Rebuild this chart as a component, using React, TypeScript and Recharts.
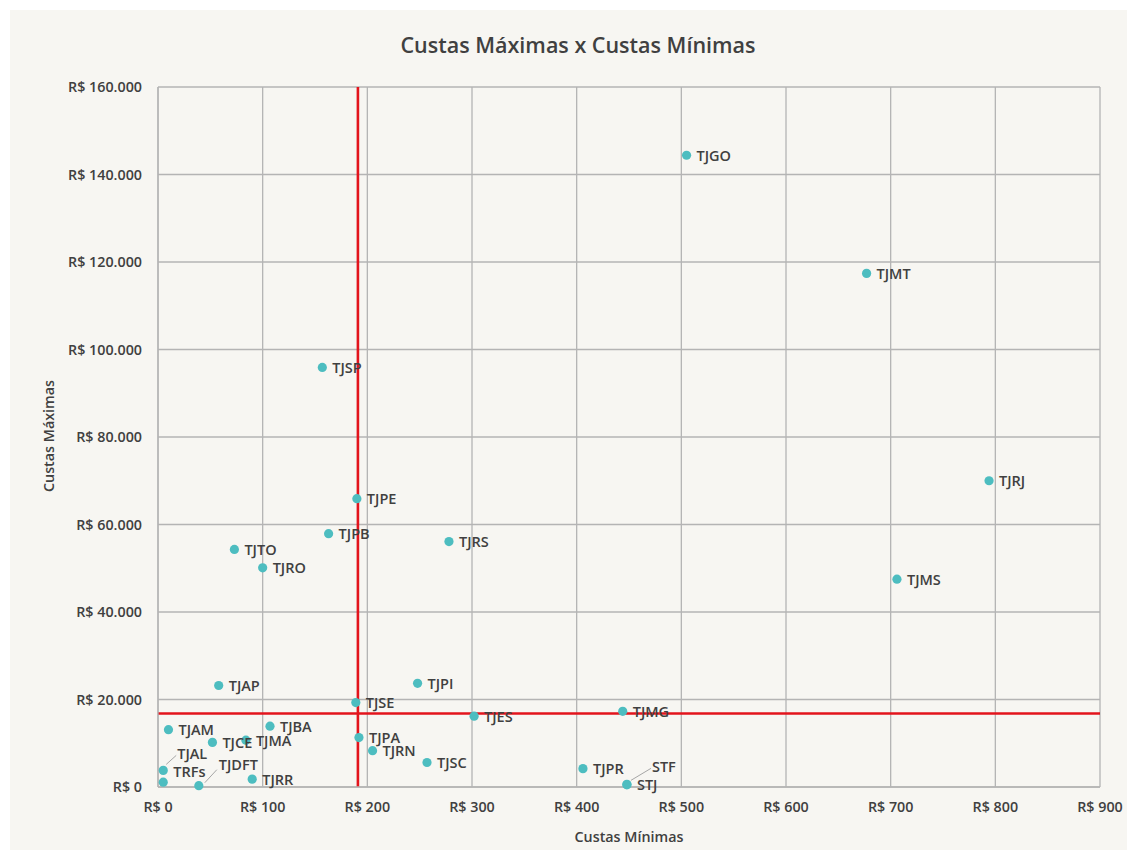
import React from "react";
import {
  ScatterChart,
  Scatter,
  XAxis,
  YAxis,
  CartesianGrid,
  ReferenceLine,
} from "recharts";

// Tribunais
const courts = [
  "TJGO", "TJMT", "TJSP", "TJRJ", "TJPE", "TJPB", "TJRS", "TJTO", "TJRO", "TJMS",
  "TJPI", "TJAP", "TJSE", "TJMG", "TJES", "TJBA", "TJAM", "TJPA", "TJMA", "TJCE",
  "TJRN", "TJSC", "TJPR", "TJAL", "TJRR", "TRFs", "STF", "STJ", "TJDFT",
];

// Custas mínimas (R$)
const minCosts = [
  505, 677, 157, 794, 190, 163, 278, 73, 100, 706,
  248, 58, 189, 444, 302, 107, 10, 192, 84, 52,
  205, 257, 406, 5, 90, 5, 448, 448, 39,
];

// Custas máximas (R$)
const maxCosts = [
  144400, 117400, 95900, 70000, 65900, 57900, 56100, 54300, 50100, 47500,
  23700, 23200, 19300, 17300, 16200, 13900, 13100, 11300, 10700, 10200,
  8300, 5600, 4200, 3800, 1800, 1100, 600, 500, 300,
];

// Linhas de corte (mínima x máxima)
const cutMin = 191;
const cutMax = 16800;

const xTicks = [0, 100, 200, 300, 400, 500, 600, 700, 800, 900];
const yTicks = [0, 20000, 40000, 60000, 80000, 100000, 120000, 140000, 160000];

const data = courts.map((name, i) => ({ name, min: minCosts[i], max: maxCosts[i] }));

// Rótulos deslocados para evitar sobreposição (com linha de chamada)
const labelPlacement: Record<string, { dx: number; dy: number; from?: [number, number]; to?: [number, number] }> = {
  TJAL: { dx: 14, dy: -17, from: [3, -6], to: [13, -15] },
  TJDFT: { dx: 20, dy: -21, from: [6, -3], to: [18, -16] },
  STF: { dx: 25, dy: -18, from: [4, -4], to: [24, -16] },
  TRFs: { dx: 10, dy: -11 },
};

const FONT = "'Open Sans', 'Noto Sans', sans-serif";
const TEXT = "#404040";
const GRID = "#b4b4b4";
const DOT = "#4dbdc0";
const RED = "#e3141c";

const fmtBRL = (v: number) =>
  "R$ " + Math.round(v).toString().replace(/\B(?=(\d{3})+(?!\d))/g, ".");

const Dot = (props: any) => {
  const { cx, cy } = props;
  return <circle cx={cx} cy={cy} r={4.6} fill={DOT} />;
};

const NameLabel = (props: any) => {
  const { cx, cy, payload } = props;
  const name = payload.name as string;
  const p = labelPlacement[name] || { dx: 10, dy: 0 };
  return (
    <g>
      {p.from && p.to && (
        <line
          x1={cx + p.from[0]}
          y1={cy + p.from[1]}
          x2={cx + p.to[0]}
          y2={cy + p.to[1]}
          stroke="#a6a6a6"
          strokeWidth={1}
        />
      )}
      <text
        x={cx + p.dx}
        y={cy + p.dy}
        dominantBaseline="central"
        textAnchor="start"
        fontFamily={FONT}
        fontSize={14.5}
        fontWeight={600}
        fill={TEXT}
      >
        {name}
      </text>
    </g>
  );
};

export default function App() {
  return (
    <div
      style={{
        position: "relative",
        width: 1117,
        height: 840,
        marginLeft: 2,
        marginTop: 2,
        background: "#f7f6f2",
        fontFamily: FONT,
      }}
    >
      <div
        style={{
          position: "absolute",
          left: 0,
          width: 1136,
          top: 21,
          textAlign: "center",
          fontSize: 21.5,
          fontWeight: 600,
          color: TEXT,
          lineHeight: "28px",
        }}
      >
        Custas Máximas x Custas Mínimas
      </div>
      <ScatterChart
        width={1117}
        height={840}
        margin={{ top: 77, right: 27, bottom: 33, left: 20 }}
      >
        <CartesianGrid stroke={GRID} strokeWidth={1.3} />
        <XAxis
          type="number"
          dataKey="min"
          domain={[0, 900]}
          ticks={xTicks}
          tickFormatter={fmtBRL}
          tickLine={false}
          axisLine={{ stroke: GRID, strokeWidth: 1.3 }}
          tickMargin={9}
          height={30}
          tick={{ fill: TEXT, fontSize: 14.3, fontWeight: 600, fontFamily: FONT }}
          interval={0}
        />
        <YAxis
          type="number"
          dataKey="max"
          domain={[0, 160000]}
          ticks={yTicks}
          tickFormatter={fmtBRL}
          tickLine={false}
          axisLine={{ stroke: GRID, strokeWidth: 1.3 }}
          tickMargin={10}
          width={128}
          tick={{ fill: TEXT, fontSize: 14.3, fontWeight: 600, fontFamily: FONT }}
          interval={0}
        />
        <ReferenceLine x={cutMin} stroke={RED} strokeWidth={2.6} />
        <ReferenceLine y={cutMax} stroke={RED} strokeWidth={2.6} />
        <Scatter data={data} shape={Dot} isAnimationActive={false} />
        <Scatter data={data} shape={NameLabel} isAnimationActive={false} />
      </ScatterChart>
      <div
        style={{
          position: "absolute",
          left: 148,
          width: 942,
          top: 818,
          textAlign: "center",
          fontSize: 14.3,
          fontWeight: 600,
          color: TEXT,
          lineHeight: "18px",
        }}
      >
        Custas Mínimas
      </div>
      <div
        style={{
          position: "absolute",
          left: 39 - 100,
          top: 426 - 9,
          width: 200,
          textAlign: "center",
          fontSize: 14.3,
          fontWeight: 600,
          color: TEXT,
          lineHeight: "18px",
          transform: "rotate(-90deg)",
        }}
      >
        Custas Máximas
      </div>
    </div>
  );
}
